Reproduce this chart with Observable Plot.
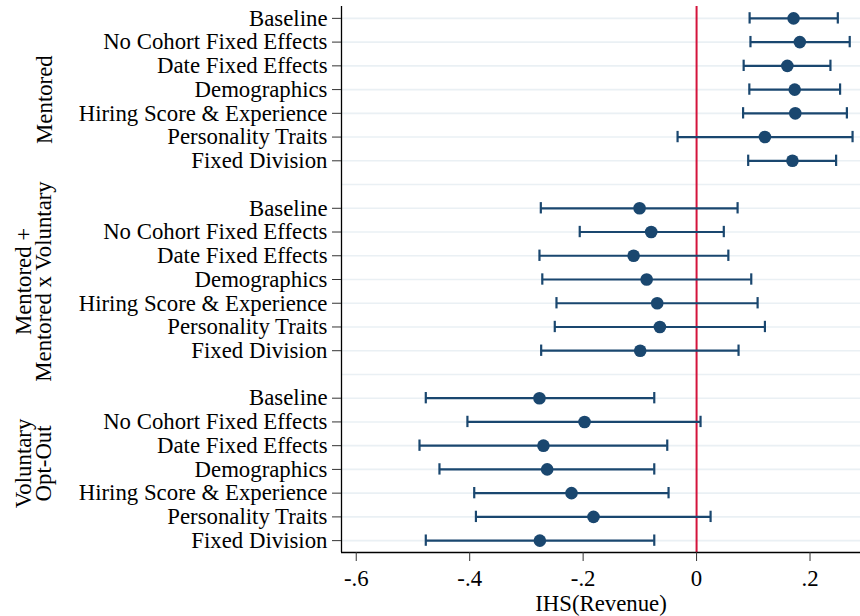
<!DOCTYPE html>
<html>
<head>
<meta charset="utf-8">
<script src="https://cdn.jsdelivr.net/npm/d3@7"></script>
<script src="https://cdn.jsdelivr.net/npm/@observablehq/plot@0.6"></script>
<style>
  html, body { margin: 0; padding: 0; background: #fff; }
</style>
</head>
<body>
<div id="chart"></div>
<script>
// ---- Data ----
const models = ["Baseline", "No Cohort Fixed Effects", "Date Fixed Effects", "Demographics",
  "Hiring Score & Experience", "Personality Traits", "Fixed Division"];
const groups = ["Mentored", "Mentored +\nMentored x Voluntary", "Voluntary\nOpt-Out"];

const mentoredCoef = [0.171, 0.182, 0.160, 0.173, 0.174, 0.1205, 0.169];
const mentoredLo   = [0.0935, 0.095, 0.083, 0.093, 0.082, -0.0335, 0.091];
const mentoredHi   = [0.249, 0.270, 0.236, 0.253, 0.265, 0.275, 0.246];

const interCoef = [-0.1005, -0.080, -0.111, -0.088, -0.0694, -0.0647, -0.0994];
const interLo   = [-0.2746, -0.206, -0.277, -0.272, -0.247, -0.250, -0.274];
const interHi   = [0.0723, 0.048, 0.056, 0.0964, 0.1076, 0.1205, 0.074];

const optCoef = [-0.277, -0.1975, -0.270, -0.2634, -0.2205, -0.1817, -0.2763];
const optLo   = [-0.4774, -0.404, -0.4885, -0.4533, -0.392, -0.389, -0.4774];
const optHi   = [-0.0746, 0.007, -0.0517, -0.0746, -0.0494, 0.0247, -0.0746];

const xTicks = [-0.6, -0.4, -0.2, 0, 0.2];
const xTickLabels = ["-.6", "-.4", "-.2", "0", ".2"];
const xTitle = "IHS(Revenue)";
const xDomain = [-0.626, 0.289];

// ---- Build table ----
const series = [
  {coef: mentoredCoef, lo: mentoredLo, hi: mentoredHi},
  {coef: interCoef, lo: interLo, hi: interHi},
  {coef: optCoef, lo: optLo, hi: optHi}
];
const keyOf = (g, m) => `${g}|${models[m]}`;
const rows = [];
const keys = [];
const realKeys = [];
series.forEach((s, g) => {
  if (g > 0) keys.push(`gap${g}`);
  models.forEach((name, m) => {
    const k = keyOf(g, m);
    keys.push(k); realKeys.push(k);
    rows.push({key: k, model: name, coef: s.coef[m], lo: s.lo[m], hi: s.hi[m]});
  });
});
const labelOf = Object.fromEntries(rows.map(r => [r.key, r.model]));
const navy = "#1a476f";
const font = "'Liberation Serif', 'Times New Roman', Times, serif";
const fs = 22.8;

const groupLabel = (g, dx, dy) => Plot.text([groups[g]], {
  y: () => keyOf(g, 3), text: d => d, frameAnchor: "left", dx, dy,
  rotate: -90, textAnchor: "middle", lineAnchor: "middle", lineHeight: 0.9,
  fontSize: fs, fill: "#000"
});

const chart = Plot.plot({
  width: 860,
  height: 616,
  marginTop: 6,
  marginBottom: 64,
  marginLeft: 341,
  marginRight: 0,
  style: {fontFamily: font, fontSize: fs + "px", background: "#fff", color: "#000"},
  x: {domain: xDomain},
  y: {type: "band", domain: keys, padding: 0, round: false},
  marks: [
    Plot.ruleY(keys, {stroke: "#eaf0f4", strokeWidth: 1.6}),
    Plot.ruleX([0], {stroke: "#d4143c", strokeWidth: 2}),
    Plot.ruleY(rows, {y: "key", x1: "lo", x2: "hi", stroke: navy, strokeWidth: 2.2}),
    Plot.tickX(rows, {y: "key", x: "lo", stroke: navy, strokeWidth: 2.2, insetTop: 6.2, insetBottom: 6.2}),
    Plot.tickX(rows, {y: "key", x: "hi", stroke: navy, strokeWidth: 2.2, insetTop: 6.2, insetBottom: 6.2}),
    Plot.dot(rows, {y: "key", x: "coef", r: 6.3, fill: navy, stroke: "none"}),
    Plot.ruleX([xDomain[0]], {stroke: "#000", strokeWidth: 1.3}),
    Plot.ruleY([keys[keys.length - 1]], {dy: 11.87, stroke: "#000", strokeWidth: 1.3}),
    Plot.axisY({ticks: realKeys, tickFormat: k => labelOf[k], tickSize: 9, tickPadding: 5,
      label: null, fontSize: fs, stroke: "#333", fill: "#000"}),
    Plot.axisX({ticks: xTicks, tickFormat: d => xTickLabels[xTicks.indexOf(d)], tickSize: 9,
      tickPadding: 8, label: null, fontSize: fs, stroke: "#333", fill: "#000"}),
    Plot.text([xTitle], {text: d => d, frameAnchor: "bottom", dy: 51.5, lineAnchor: "middle",
      fontSize: fs, fill: "#000"}),
    groupLabel(0, -296, 10),
    groupLabel(1, -307, 2),
    groupLabel(2, -307, -6)
  ]
});
document.getElementById("chart").appendChild(chart);
</script>
</body>
</html>
